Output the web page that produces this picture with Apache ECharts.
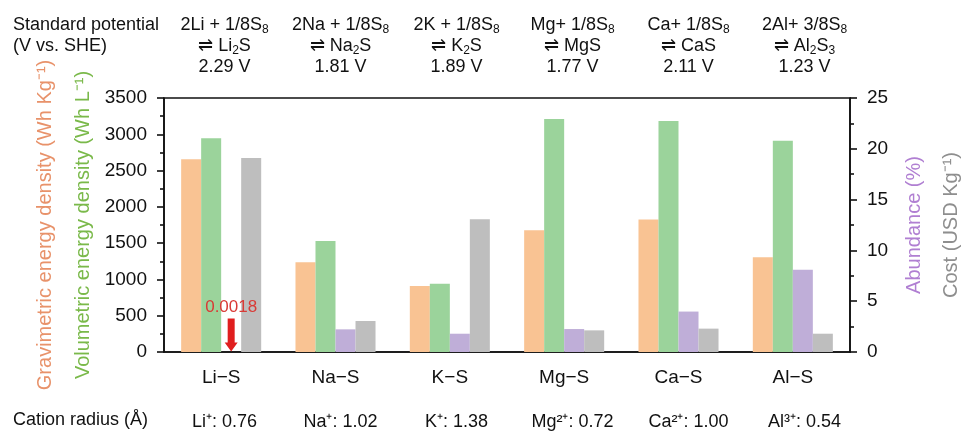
<!DOCTYPE html>
<html>
<head>
<meta charset="utf-8">
<script src="https://cdn.jsdelivr.net/npm/echarts@6/dist/echarts.min.js"></script>
<style>
  html, body { margin: 0; padding: 0; background: #fff; }
  #chart { width: 962px; height: 432px; }
</style>
</head>
<body>
<div id="chart"></div>
<script>
// metal–sulfur batteries: energy density (left axis) vs abundance / cost (right axis)

const categories = ['Li−S', 'Na−S', 'K−S', 'Mg−S', 'Ca−S', 'Al−S']
const gravimetric = [2655, 1236, 910, 1677, 1825, 1305]   // Wh Kg-1
const volumetric = [2945, 1530, 941, 3211, 3183, 2912]    // Wh L-1
const abundance = [0.0018, 2.23, 1.8, 2.26, 3.98, 8.1]    // %
const cost = [19.1, 3.05, 13.06, 2.13, 2.3, 1.8]          // USD Kg-1

// "_n" marks a subscript digit
const reactants = ['2Li + 1/8S_8', '2Na + 1/8S_8', '2K + 1/8S_8', 'Mg+ 1/8S_8', 'Ca+ 1/8S_8', '2Al+ 3/8S_8']
const products = ['⇌ Li_2S', '⇌ Na_2S', '⇌ K_2S', '⇌ MgS', '⇌ CaS', '⇌ Al_2S_3']
const potentials = ['2.29 V', '1.81 V', '1.89 V', '1.77 V', '2.11 V', '1.23 V']
const cationRadius = ['Li⁺: 0.76', 'Na⁺: 1.02', 'K⁺: 1.38', 'Mg²⁺: 0.72', 'Ca²⁺: 1.00', 'Al³⁺: 0.54']

const FONT = "'Liberation Sans', Arial, sans-serif"
const C = {
  orange: '#F9C393', green: '#9BD39B', purple: '#BFAED8', gray: '#BEBEBE',
  orangeText: '#E8926A', greenText: '#7AB94A', purpleText: '#B07FD2', grayText: '#8E8E8E',
  red: '#E01E1E'
}

function sub(s) {
  return '{t|' + s.replace(/_(\d)/g, '}{s|$1}{t|') + '}'
}

const chart = echarts.init(document.getElementById('chart'))

const axisLineStyle = { color: '#111', width: 1.6 }
const plain = (v) => String(v)

chart.setOption({
  backgroundColor: '#fff',
  textStyle: { fontFamily: FONT },
  grid: [
    { left: 164, right: 112, top: 98, bottom: 80, outerBoundsMode: 'none', show: true, borderColor: '#111', borderWidth: 1.6 },
    { left: 166.5, right: 99.5, top: 98, bottom: 80, outerBoundsMode: 'none' },
    { left: 164, right: 112, top: 98, bottom: 80, outerBoundsMode: 'none' }
  ],
  xAxis: [
    {
      type: 'category', gridIndex: 0, data: categories, position: 'bottom',
      axisLine: { lineStyle: axisLineStyle },
      axisTick: { alignWithLabel: true, length: 5, lineStyle: axisLineStyle },
      axisLabel: { interval: 0, fontSize: 19, color: '#111', margin: 16, fontFamily: FONT }
    },
    {
      // header: reactions and standard potentials
      type: 'category', gridIndex: 1, data: categories, position: 'top',
      axisLine: { show: false }, axisTick: { show: false },
      axisLabel: {
        interval: 0, margin: 20,
        formatter: (v, i) => [sub(reactants[i]), sub(products[i]), sub(potentials[i])].join('\n'),
        rich: {
          t: { fontSize: 18, lineHeight: 21, color: '#111', fontFamily: FONT, verticalAlign: 'middle' },
          s: { fontSize: 12, lineHeight: 12, color: '#111', fontFamily: FONT, verticalAlign: 'bottom' }
        }
      }
    },
    {
      // cation radius row
      type: 'category', gridIndex: 1, data: cationRadius, position: 'bottom', offset: 45,
      axisLine: { show: false }, axisTick: { show: false },
      axisLabel: { interval: 0, fontSize: 18, color: '#111', margin: 16, fontFamily: FONT }
    },
    {
      // boundary ticks between groups
      type: 'category', gridIndex: 2, data: categories, position: 'bottom',
      axisLine: { show: false },
      axisTick: { alignWithLabel: false, interval: 0, length: 5, lineStyle: axisLineStyle },
      axisLabel: { show: false }
    }
  ],
  yAxis: [
    {
      type: 'value', gridIndex: 0, min: 0, max: 3500, interval: 500, position: 'left',
      axisLine: { show: true, lineStyle: axisLineStyle },
      axisTick: { show: true, length: 7, lineStyle: axisLineStyle },
      minorTick: { show: true, splitNumber: 2, length: 4, lineStyle: axisLineStyle },
      splitLine: { show: false },
      axisLabel: { fontSize: 19, color: '#111', margin: 17, fontFamily: FONT, formatter: plain },
      name: '{g|Gravimetric energy density (Wh Kg⁻¹)}\n{v|Volumetric energy density (Wh L⁻¹)}',
      nameLocation: 'middle', nameRotate: 90, nameGap: 56,
      nameTextStyle: {
        rich: {
          g: { fontSize: 20, lineHeight: 38, color: C.orangeText, fontFamily: FONT },
          v: { fontSize: 20, lineHeight: 38, color: C.greenText, fontFamily: FONT }
        }
      }
    },
    {
      type: 'value', gridIndex: 0, min: 0, max: 25, interval: 5, position: 'right',
      axisLine: { show: true, lineStyle: axisLineStyle },
      axisTick: { show: true, length: 7, lineStyle: axisLineStyle },
      minorTick: { show: true, splitNumber: 2, length: 4, lineStyle: axisLineStyle },
      splitLine: { show: false },
      axisLabel: { fontSize: 19, color: '#111', margin: 17, fontFamily: FONT, formatter: plain },
      name: '{a|Abundance (%)}\n{c|Cost (USD Kg⁻¹)}',
      nameLocation: 'middle', nameRotate: 90, nameGap: 46,
      nameTextStyle: {
        rich: {
          a: { fontSize: 20, lineHeight: 37, color: C.purpleText, fontFamily: FONT },
          c: { fontSize: 20, lineHeight: 37, color: C.grayText, fontFamily: FONT }
        }
      }
    },
    { type: 'value', gridIndex: 1, show: false },
    { type: 'value', gridIndex: 2, show: false }
  ],
  graphic: [
    {
      type: 'text', left: 13, top: 15,
      style: { text: 'Standard potential\n(V vs. SHE)', fontSize: 18, lineHeight: 21, fontFamily: FONT, fill: '#111' }
    },
    {
      type: 'text', left: 13, top: 410,
      style: { text: 'Cation radius (Å)', fontSize: 18, lineHeight: 21, fontFamily: FONT, fill: '#111' }
    }
  ],
  series: [
    {
      name: 'Gravimetric', type: 'bar', xAxisIndex: 0, yAxisIndex: 0, data: gravimetric,
      itemStyle: { color: C.orange }, barGap: '0%', barCategoryGap: '30%'
    },
    {
      name: 'Volumetric', type: 'bar', xAxisIndex: 0, yAxisIndex: 0, data: volumetric,
      itemStyle: { color: C.green }
    },
    {
      name: 'Abundance', type: 'bar', xAxisIndex: 0, yAxisIndex: 1, data: abundance,
      itemStyle: { color: C.purple },
      markPoint: {
        silent: true,
        symbol: 'path://M3,0 L10,0 L10,24 L13,24 L6.5,33 L0,24 L3,24 Z',
        symbolSize: [13, 33],
        symbolOffset: [0, -17],
        itemStyle: { color: C.red },
        label: {
          show: true, position: 'top', distance: 3,
          formatter: (p) => String(p.value),
          color: '#D93A36', fontSize: 17, fontFamily: FONT
        },
        data: [{ coord: [0, abundance[0]], value: abundance[0] }]
      }
    },
    {
      name: 'Cost', type: 'bar', xAxisIndex: 0, yAxisIndex: 1, data: cost,
      itemStyle: { color: C.gray }
    }
  ]
})
</script>
</body>
</html>
